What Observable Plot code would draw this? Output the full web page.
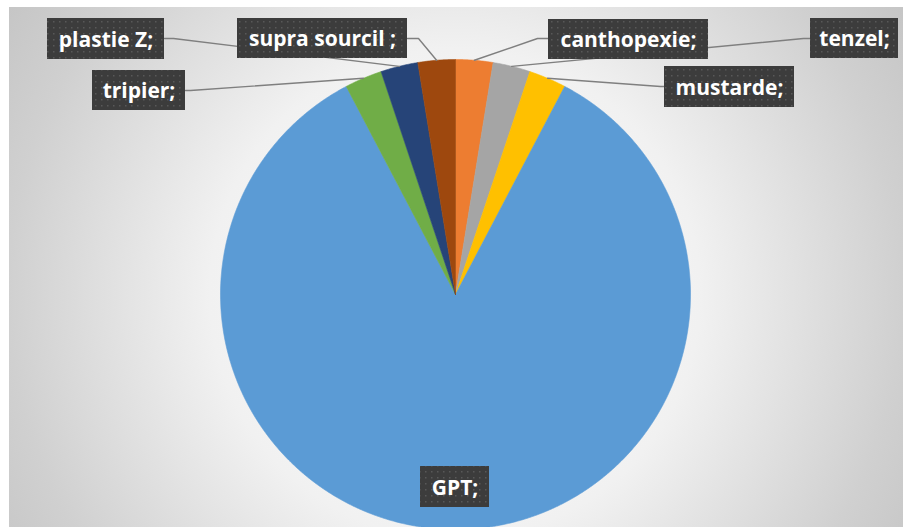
<!DOCTYPE html>
<html><head><meta charset="utf-8">
<script src="https://cdn.jsdelivr.net/npm/d3@7"></script>
<script src="https://cdn.jsdelivr.net/npm/@observablehq/plot@0.6"></script>
<style>
html,body{margin:0;padding:0;background:#fff;}
#chart{position:absolute;left:9px;top:7px;width:894px;height:520px;overflow:hidden;}
g[aria-label="label-box"] rect{filter:drop-shadow(3px 4px 3px rgba(0,0,0,0.55));}
</style>
</head><body>
<svg width="0" height="0" style="position:absolute">
  <defs>
    <pattern id="dots" width="6" height="6" patternUnits="userSpaceOnUse">
      <rect width="6" height="6" fill="#3c3c3c"/>
      <rect x="2" y="2" width="1.5" height="1.5" fill="#585858"/>
    </pattern>
  </defs>
</svg>
<div id="chart"></div>
<script>
// ---- data ----
const categories = ["canthopexie", "tenzel", "mustarde", "GPT", "tripier", "plastie Z", "supra sourcil "];
const values = [1, 1, 1, 33, 1, 1, 1];
const labelTexts = ["canthopexie;", "tenzel;", "mustarde;", "GPT;", "tripier;", "plastie Z;", "supra sourcil ;"];
const colors = ["#ED7D31", "#A5A5A5", "#FFC000", "#5B9BD5", "#70AD47", "#264478", "#9E480E"];

// ---- layout (page pixel coordinates) ----
const pie = {cx: 455, cy: 294, r: 235};
const labelBoxes = [
  [548, 708, 19, 59],
  [810, 898, 18, 58],
  [664, 794, 66, 107],
  [420, 489, 466, 507],
  [92, 185, 70, 110],
  [47, 164, 18, 59],
  [237, 407, 18, 58]
];
const leaderElbows = [
  [[548, 38], [537, 38]],
  [[810, 38], [803, 38]],
  [[664, 86], [660, 86]],
  null,
  [[185, 90], [190, 90]],
  [[164, 38], [173, 38]],
  [[407, 38], [418, 38]]
];

// ---- build geometry ----
const arcs = d3.pie().sort(null).value(d => d)(values);
const pt = (a, rr) => ({x: pie.cx + rr * Math.sin(a), y: pie.cy - rr * Math.cos(a)});

const slicePts = [];
arcs.forEach((a, i) => {
  const k = categories[i];
  slicePts.push({x: pie.cx, y: pie.cy, k, c: colors[i]});
  const n = Math.max(4, Math.ceil((a.endAngle - a.startAngle) / (Math.PI / 720)));
  for (let j = 0; j <= n; j++) {
    const p = pt(a.startAngle + (a.endAngle - a.startAngle) * j / n, pie.r);
    slicePts.push({x: p.x, y: p.y, k, c: colors[i]});
  }
  slicePts.push({x: pie.cx, y: pie.cy, k, c: colors[i]});
});

const leaderPts = [];
arcs.forEach((a, i) => {
  if (!leaderElbows[i]) return;
  leaderElbows[i].forEach(([x, y]) => leaderPts.push({x, y, k: categories[i]}));
  const e = pt((a.startAngle + a.endAngle) / 2, pie.r);
  leaderPts.push({x: e.x, y: e.y, k: categories[i]});
});

const boxes = labelBoxes.map((b, i) => ({x1: b[0], x2: b[1], y1: b[2], y2: b[3], label: labelTexts[i]}));

const plot = Plot.plot({
  width: 894,
  height: 520,
  margin: 0,
  x: {domain: [9, 903], range: [0, 894], axis: null},
  y: {domain: [7, 527], range: [0, 520], axis: null},
  color: {type: "identity"},
  style: {
    background: "radial-gradient(circle 545px at 446px 287px, #ffffff 0%, #f1f1f1 45%, #d0d0d0 82%, #c4c4c4 100%)",
    overflow: "hidden"
  },
  marks: [
    Plot.line(slicePts, {x: "x", y: "y", z: "k", fill: "c", stroke: "c", strokeWidth: 0.6, curve: "linear"}),
    Plot.line(leaderPts, {x: "x", y: "y", z: "k", stroke: "#7f7f7f", strokeWidth: 1.4, curve: "linear"}),
    Plot.rect(boxes, {x1: "x1", x2: "x2", y1: "y1", y2: "y2", fill: "url(#dots)", ariaLabel: "label-box"}),
    Plot.text(boxes, {
      x: d => (d.x1 + d.x2) / 2,
      y: d => (d.y1 + d.y2) / 2 + 1,
      text: "label",
      fill: "white",
      fontWeight: "bold",
      fontSize: 21,
      fontFamily: "'Open Sans', sans-serif",
      textAnchor: "middle",
      lineAnchor: "middle"
    })
  ]
});
document.getElementById("chart").appendChild(plot);
</script>
</body></html>
